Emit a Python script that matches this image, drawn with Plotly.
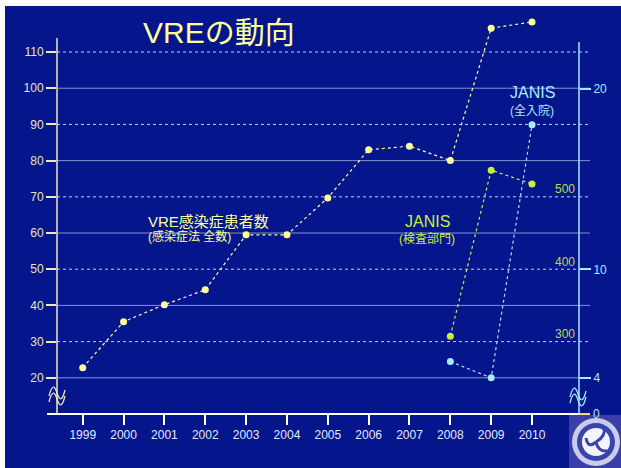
import plotly.graph_objects as go

# ---------------- data ----------------
years = list(range(1999, 2011))
vre_cases = [22.8, 35.5, 40.2, 44.3, 59.5, 59.5, 69.7, 83.0, 84.0, 80.0, 116.6, 118.3]
janis_years = [2008, 2009, 2010]
janis_lab = [308, 537, 518]        # JANIS (検査部門) - green, inner right scale
janis_all = [4.9, 4.0, 18.0]       # JANIS (全入院) - cyan, outer right scale
left_ticks = [20, 30, 40, 50, 60, 70, 80, 90, 100, 110]
right_ticks = [4, 10, 20]
green_ticks = [300, 400, 500]

# ---------------- geometry helpers ----------------
W, H = 621, 468
L, R, T, B = 57, 42, 18, 54
PW, PH = W - L - R, H - T - B


def px(x):
    return (x - L) / PW


def py(y):
    return (H - B - y) / PH


BG = "#05168c"
YEL = "#ffff99"
YEL_AX = "#ecebb8"
CYAN = "#a6eaff"
GREEN = "#c6f03c"
GREEN_TXT = "#b6d84a"
FONT = "Liberation Sans, Arial, Noto Sans CJK JP, sans-serif"

fig = go.Figure()

fig.add_trace(go.Scatter(
    x=years, y=vre_cases, mode="lines+markers", yaxis="y",
    line=dict(color=YEL, width=1.2, dash="3px,3px"),
    marker=dict(color=YEL, size=7), cliponaxis=False, showlegend=False))

fig.add_trace(go.Scatter(
    x=janis_years, y=janis_lab, mode="lines+markers", yaxis="y3",
    line=dict(color=GREEN, width=1.2, dash="3px,3px"),
    marker=dict(color=GREEN, size=7), cliponaxis=False, showlegend=False))

fig.add_trace(go.Scatter(
    x=janis_years, y=janis_all, mode="lines+markers", yaxis="y2",
    line=dict(color="#b0dcff", width=1.2, dash="3px,3px"),
    marker=dict(color=CYAN, size=7), cliponaxis=False, showlegend=False))

shapes = []
# white borders (top / left)
shapes.append(dict(type="rect", xref="paper", yref="paper", x0=px(0), x1=px(W), y0=py(6), y1=py(0),
                   fillcolor="white", line=dict(width=0), layer="above"))
shapes.append(dict(type="rect", xref="paper", yref="paper", x0=px(0), x1=px(5), y0=py(H), y1=py(0),
                   fillcolor="white", line=dict(width=0), layer="above"))

# gridlines (alternating dotted / solid) extending across the right axis
for v in left_ticks:
    odd = (v // 10) % 2 == 1
    shapes.append(dict(type="line", xref="paper", yref="y", x0=0, x1=px(590), y0=v, y1=v,
                       line=dict(color="rgba(235,235,255,0.85)" if odd else "rgba(190,195,235,0.7)",
                                 width=1, dash="dot" if odd else "solid"),
                       layer="below"))

# axis lines
shapes.append(dict(type="line", xref="paper", yref="paper", x0=0, x1=0, y0=0, y1=py(38),
                   line=dict(color=YEL_AX, width=1.5)))
shapes.append(dict(type="line", xref="paper", yref="paper", x0=1, x1=1, y0=0, y1=py(42),
                   line=dict(color=CYAN, width=1.5)))
shapes.append(dict(type="line", xref="paper", yref="paper", x0=px(47), x1=1, y0=0, y1=0,
                   line=dict(color="white", width=2)))
shapes.append(dict(type="line", xref="paper", yref="paper", x0=1, x1=px(590), y0=0, y1=0,
                   line=dict(color="#e8e070", width=2)))


def wave(cx, cy):
    pts = [(cx - 8, cy + 3), (cx - 4, cy - 13), (cx, cy), (cx + 8, cy - 3)]
    (x0, y0), (x1, y1), (x2, y2), (x3, y3) = [(px(a), py(b)) for a, b in pts]
    return f"M{x0},{y0} Q{x1},{y1} {x2},{y2} T{x3},{y3}"


for cx, cy, col in [(57, 393, YEL_AX), (578, 394, CYAN)]:
    for dy in (0, 6):
        shapes.append(dict(type="path", xref="paper", yref="paper", path=wave(cx, cy + dy),
                           line=dict(color=col, width=1.3)))

# logo (bottom right)
shapes.append(dict(type="rect", xref="paper", yref="paper", x0=px(569), x1=px(W), y0=py(H), y1=py(415),
                   fillcolor="#3a3ea6", line=dict(width=0), layer="above"))
for (x0, x1, y0, y1, c) in [(572, 620, 466, 418, "#c9cdea"), (577, 615, 461, 423, "#3a44aa"),
                            (582, 610, 456, 428, "#f4f4ff")]:
    shapes.append(dict(type="circle", xref="paper", yref="paper", x0=px(x0), x1=px(x1),
                       y0=py(y0), y1=py(y1), fillcolor=c, line=dict(width=0), layer="above"))


def swirl(points):
    (a, b), (c, d), (e, f) = [(px(x), py(y)) for x, y in points]
    return f"M{a},{b} Q{c},{d} {e},{f}"


for pts in [[(596, 442), (606, 436), (604, 428)],
            [(596, 442), (588, 449), (586, 438)],
            [(596, 442), (598, 452), (608, 451)]]:
    shapes.append(dict(type="path", xref="paper", yref="paper", path=swirl(pts),
                       line=dict(color="#3a44aa", width=3), layer="above"))

annotations = []


def txt(text, x, y, size, color, xanchor="center"):
    annotations.append(dict(text=text, xref="paper", yref="paper", x=px(x), y=py(y),
                            xanchor=xanchor, yanchor="middle", showarrow=False,
                            font=dict(family=FONT, size=size, color=color)))


txt("VREの動向", 219, 32, 30, YEL)
txt("VRE感染症患者数", 146, 221, 15, YEL, "left")
txt("(感染症法 全数)", 146, 237, 12, YEL, "left")
txt("JANIS", 427, 221, 16, GREEN)
txt("(検査部門)", 427, 239, 12, GREEN)
txt("JANIS", 532, 92, 16, CYAN)
txt("(全入院)", 532, 111, 12, CYAN)
txt("0", 591, 414, 12, CYAN, "left")

for v in green_ticks:
    annotations.append(dict(text=str(v), xref="paper", yref="y3", x=px(577), y=v, yshift=8,
                            xanchor="right", yanchor="middle", showarrow=False,
                            font=dict(family=FONT, size=12, color=GREEN_TXT)))

fig.update_layout(
    width=W, height=H,
    margin=dict(l=L, r=R, t=T, b=B),
    paper_bgcolor=BG, plot_bgcolor=BG,
    font=dict(family=FONT),
    shapes=shapes, annotations=annotations,
    xaxis=dict(range=[1998.37, 2011.15], tickvals=years, showgrid=False, zeroline=False,
               showline=False, ticks="outside", ticklen=10, tickwidth=1.5, tickcolor="white",
               tickfont=dict(size=12, color="#e4e8ff", family=FONT)),
    yaxis=dict(range=[10, 119.4], tickvals=left_ticks, showgrid=False, zeroline=False,
               showline=False, ticks="outside", ticklen=10, tickwidth=1.5, tickcolor=YEL_AX,
               tickfont=dict(size=12, color="#e6e6b8", family=FONT)),
    yaxis2=dict(range=[2.0, 23.9], overlaying="y", side="right", anchor="x",
                tickvals=right_ticks, showgrid=False, zeroline=False, showline=False,
                ticks="outside", ticklen=11, tickwidth=1.5, tickcolor=CYAN,
                tickfont=dict(size=12, color=CYAN, family=FONT)),
    yaxis3=dict(range=[200.7, 746.9], overlaying="y", side="right", anchor="x",
                showgrid=False, zeroline=False, showline=False, showticklabels=False, ticks=""),
)

fig.write_html("out.html")
